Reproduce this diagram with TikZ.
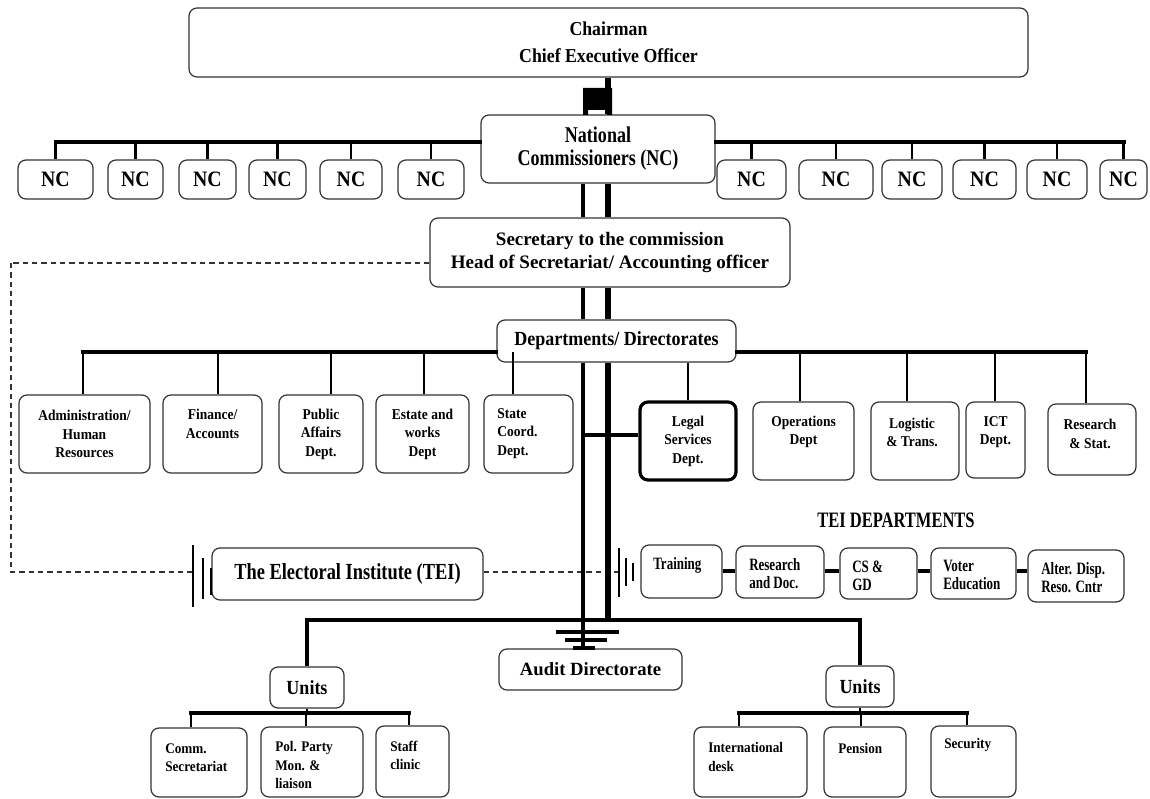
\documentclass[tikz,border=0pt]{standalone}
\usepackage{fontspec}
\setmainfont{Liberation Serif}
\newfontfamily\fA{Liberation Serif}
\newfontfamily\fB{Liberation Serif}[FakeStretch=0.9]
\newfontfamily\fC{Liberation Serif}[FakeStretch=0.8]
\newfontfamily\fD{Liberation Serif}[FakeStretch=0.75]
\newcommand\ftCh{\fB\bfseries\fontsize{14.8pt}{20.25pt}\selectfont}
\newcommand\ftNat{\fC\bfseries\fontsize{16.9pt}{17.25pt}\selectfont}
\newcommand\ftNC{\fB\bfseries\fontsize{16.5pt}{18pt}\selectfont}
\newcommand\ftSec{\fA\bfseries\fontsize{14.25pt}{17.25pt}\selectfont}
\newcommand\ftDep{\fB\bfseries\fontsize{15pt}{17pt}\selectfont}
\newcommand\ftSm{\fB\bfseries\fontsize{11.25pt}{13.9pt}\selectfont}
\newcommand\ftTEI{\fC\bfseries\fontsize{17.25pt}{19pt}\selectfont}
\newcommand\ftTD{\fD\bfseries\fontsize{16.5pt}{18pt}\selectfont}
\newcommand\ftTs{\fD\bfseries\fontsize{13pt}{13.5pt}\selectfont}
\newcommand\ftAud{\fA\bfseries\fontsize{14pt}{16pt}\selectfont}
\newcommand\ftUn{\fB\bfseries\fontsize{15pt}{17pt}\selectfont}
\newcommand\ftBu{\fB\bfseries\fontsize{11pt}{13.9pt}\selectfont}
\newcommand\bx[6][]{\node[box,#1,minimum width={(#4-#2)*0.75pt},minimum height={(#5-#3)*0.75pt}] (#6) at ({(#2+#4)/2},{(#3+#5)/2})}
\tikzset{
  box/.style={draw=black!80, line width=0.9pt, rounded corners=6pt, fill=white, inner sep=0pt, align=center, text=black},
  txt/.style={inner sep=0pt, text=black},
  bus/.style={line width=3pt, line cap=rect},
  drop/.style={line width=2.2pt},
  vthin/.style={line width=2.4pt},
  vthick/.style={line width=5.2pt},
  dsh/.style={line width=0.9pt, dash pattern=on 4pt off 3pt, draw=black!80},
  sym/.style={line width=2.2pt},
  tcon/.style={line width=3pt},
}
\begin{document}
\begin{tikzpicture}[x=0.75pt,y=-0.75pt]
\useasboundingbox (0,0) rectangle (1150,799);
\fill[white] (0,0) rectangle (1150,799);
% helper coordinates
\coordinate (cA) at (583,0);
\coordinate (cB) at (608,0);
\coordinate (yNC) at (0,142);
\coordinate (yB) at (0,620);
\coordinate (yT) at (0,571);
\coordinate (d1) at (83,352);
\coordinate (d2) at (218,352);
\coordinate (d3) at (331,352);
\coordinate (d4) at (424,352);
\coordinate (d5) at (513,352);
\coordinate (d6) at (800,352);
\coordinate (d7) at (907,352);
\coordinate (d8) at (995,352);
\coordinate (d9) at (1086,352);
\coordinate (u1) at (191,713);
\coordinate (u2) at (306,713);
\coordinate (u3) at (409,713);
\coordinate (u4) at (739,713);
\coordinate (u5) at (861,713);
\coordinate (u6) at (967,713);
\coordinate (dL1) at (11,263);
\coordinate (dL2) at (11,572);
\coordinate (sL) at (193,572);
\coordinate (sR) at (619,572);
\coordinate (lgc) at (583,435);

% ---- boxes
\bx[font=\ftCh]{189}{8}{1028}{77}{ch}{Chairman\\Chief Executive Officer};
\bx[font=\ftNat]{481}{115}{715}{183}{nc0}{National\\Commissioners (NC)};
\bx[font=\ftNC]{18}{160}{93}{199}{n1}{NC};
\bx[font=\ftNC]{108}{160}{163}{199}{n2}{NC};
\bx[font=\ftNC]{179}{160}{236}{199}{n3}{NC};
\bx[font=\ftNC]{249}{160}{306}{199}{n4}{NC};
\bx[font=\ftNC]{320}{160}{382}{199}{n5}{NC};
\bx[font=\ftNC]{398}{160}{464}{199}{n6}{NC};
\bx[font=\ftNC]{717}{160}{786}{199}{n7}{NC};
\bx[font=\ftNC]{799}{160}{873}{199}{n8}{NC};
\bx[font=\ftNC]{882}{160}{942}{199}{n9}{NC};
\bx[font=\ftNC]{953}{160}{1016}{199}{n10}{NC};
\bx[font=\ftNC]{1027}{160}{1087}{199}{n11}{NC};
\bx[font=\ftNC]{1100}{160}{1147}{199}{n12}{NC};

% ---- dashed link (behind)
\draw[dsh] (dL1) -- (dL2) -- (sL);

% ---- main spine and top links
\draw[vthick] (ch.south -| cB) -- (nc0.north -| cB);
\fill (583,88) -- (612,88) -- (612,115) -- (607,115) -- (607,110) -- (588,110) -- (588,115) -- (583,115) -- cycle;
\draw[bus] (nc0.west |- yNC) -- (n1.north |- yNC);
\draw[bus] (nc0.east |- yNC) -- (n12.north |- yNC);
\foreach \n in {n1,n2,n3,n4,n5,n6,n7,n8,n9,n10,n11,n12}{
  \draw[drop] (\n.north |- yNC) -- (\n.north);
}

\bx[font=\ftSec]{430}{218}{790}{287}{sec}{Secretary to the commission\\Head of Secretariat/ Accounting officer};
\draw[dsh] (sec.west |- dL1) -- (dL1);
\draw[vthin] (nc0.south -| cA) -- (sec.north -| cA);
\draw[vthick] (nc0.south -| cB) -- (sec.north -| cB);

\bx[font=\ftDep]{497}{320}{736}{362}{dep}{Departments/ Directorates};
\draw[vthin] (sec.south -| cA) -- (dep.north -| cA);
\draw[vthick] (sec.south -| cB) -- (dep.north -| cB);

% departments buses
\draw[bus] (dep.west |- d1) -- (d1);
\draw[bus] (dep.east |- d9) -- (d9);

\bx[font=\ftSm]{19}{395}{150}{473}{adm}{Administration/\\Human\\Resources};
\bx{163}{395}{262}{473}{fin}{};
\bx[font=\ftSm]{279}{395}{363}{473}{pub}{Public\\Affairs\\Dept.};
\bx[font=\ftSm]{376}{395}{469}{473}{est}{Estate and\\works\\Dept};
\bx{484}{395}{573}{473}{sta}{};
\bx[font=\ftSm,line width=2.4pt,draw=black]{640}{402}{736}{480}{lg}{Legal\\Services\\Dept.};
\bx{753}{402}{854}{480}{op}{};
\bx{871}{402}{959}{480}{lo}{};
\bx{966}{402}{1025}{478}{ict}{};
\bx{1048}{404}{1136}{475}{rs}{};

\draw[drop] (d1) -- (d1 |- adm.north);
\draw[drop] (d2) -- (d2 |- fin.north);
\draw[drop] (d3) -- (d3 |- pub.north);
\draw[drop] (d4) -- (d4 |- est.north);
\draw[drop] (d5) -- (d5 |- sta.north);
\draw[drop] (lg.north |- dep.south) -- (lg.north);
\draw[drop] (d6) -- (d6 |- op.north);
\draw[drop] (d7) -- (d7 |- lo.north);
\draw[drop] (d8) -- (d8 |- ict.north);
\draw[drop] (d9) -- (d9 |- rs.north);

\node[txt,font=\ftSm,align=center] (fin-t) at (212.5,424) {Finance/\\Accounts};
\node[txt,font=\ftSm,align=left,anchor=west] (sta-t) at (497,433.5) {State\\Coord.\\Dept.};
\node[txt,font=\ftSm,align=center] (op-t) at (803.5,432) {Operations\\Dept};
\node[txt,font=\ftSm,align=center] (lo-t) at (912,432.5) {Logistic\\\& Trans.};
\node[txt,font=\ftSm,align=center] (ict-t) at (995.5,432) {ICT\\Dept.};
\node[txt,font=\ftSm,align=center] (rs-t) at (1090,434) {Research\\\& Stat.};

% ---- TEI row
\bx[font=\ftTEI]{212}{548}{483}{600}{tei}{The Electoral Institute (TEI)};
\draw[dsh] (tei.east |- dL2) -- (sR);
\draw[sym] (193,545) -- (193,607);
\draw[sym] (203,558) -- (203,599);
\draw[sym] (211,568) -- (211,595);

\node[txt,font=\ftTD] (teid) at (896,520) {TEI DEPARTMENTS};
\bx{641}{545}{722}{598}{tr}{};
\bx{736}{546}{824}{598}{rd}{};
\bx{840}{548}{917}{599}{cs}{};
\bx{931}{548}{1016}{599}{ve}{};
\bx{1028}{550}{1124}{602}{ad}{};
\draw[sym,line width=2pt] (619,548) -- (619,597);
\draw[sym,line width=2pt] (626,558) -- (626,586);
\draw[sym,line width=2pt] (633,563) -- (633,581);
\draw[tcon] (tr.east |- yT) -- (rd.west |- yT);
\draw[tcon] (rd.east |- yT) -- (cs.west |- yT);
\draw[tcon] (cs.east |- yT) -- (ve.west |- yT);
\draw[tcon] (ve.east |- yT) -- (ad.west |- yT);
\node[txt,font=\ftTs,align=left,anchor=west] (tr-t) at (653,565) {Training};
\node[txt,font=\ftTs,align=left,anchor=west] (rd-t) at (749,573.5) {Research\\and Doc.};
\node[txt,font=\ftTs,align=left,anchor=west] (cs-t) at (852,576) {CS \&\\GD};
\node[txt,font=\ftTs,align=left,anchor=west] (ve-t) at (943,575) {Voter\\Education};
\node[txt,font=\ftTs,align=left,anchor=west] (ad-t) at (1041,578) {Alter. Disp.\\Reso. Cntr};

% ---- Audit and units
\bx[font=\ftAud]{499}{649}{682}{690}{aud}{Audit Directorate};
\bx[font=\ftUn]{270}{667}{344}{708}{lu}{Units};
\bx[font=\ftUn]{826}{666}{894}{707}{ru}{Units};

\draw[vthin] (dep.south -| cA) -- (aud.north -| cA);
\draw[vthick] (dep.south -| cB) -- (cB |- yB);
\draw[vthin] (lgc) -- (lgc -| lg.west);
\draw[sym,line width=3pt] (556,632) -- (619,632);
\draw[sym,line width=3pt] (565,640) -- (607,640);
\draw[sym,line width=3pt] (573,648) -- (595,648);
\draw[bus,line cap=butt,line join=miter] (lu.north) -- (lu.north |- yB) -- (ru.north |- yB) -- (ru.north);

\bx{151}{728}{247}{797}{cm}{};
\bx{261}{727}{363}{797}{pp}{};
\bx{376}{726}{449}{797}{sc}{};
\bx{694}{727}{807}{797}{id}{};
\bx{824}{727}{906}{797}{pe}{};
\bx{931}{726}{1016}{797}{se}{};

\draw[bus] (u1) -- (u3);
\draw[bus] (u4) -- (u6);
\draw[drop] (lu.south) -- (lu.south |- u1);
\draw[drop] (ru.south) -- (ru.south |- u4);
\draw[drop] (u1) -- (u1 |- cm.north);
\draw[drop] (u2) -- (u2 |- pp.north);
\draw[drop] (u3) -- (u3 |- sc.north);
\draw[drop] (u4) -- (u4 |- id.north);
\draw[drop] (u5) -- (u5 |- pe.north);
\draw[drop] (u6) -- (u6 |- se.north);

\node[txt,font=\ftBu,align=left,anchor=west] (cm-t) at (165,757.5) {Comm.\\Secretariat};
\node[txt,font=\ftBu,align=left,anchor=west] (pp-t) at (275,765) {Pol. Party\\Mon. \&\\liaison};
\node[txt,font=\ftBu,align=left,anchor=west] (sc-t) at (390,755.5) {Staff\\clinic};
\node[txt,font=\ftBu,align=left,anchor=west] (id-t) at (708,757) {International\\desk};
\node[txt,font=\ftBu,align=left,anchor=west] (pe-t) at (838,748) {Pension};
\node[txt,font=\ftBu,align=left,anchor=west] (se-t) at (944,745) {Security};
\end{tikzpicture}
\end{document}
